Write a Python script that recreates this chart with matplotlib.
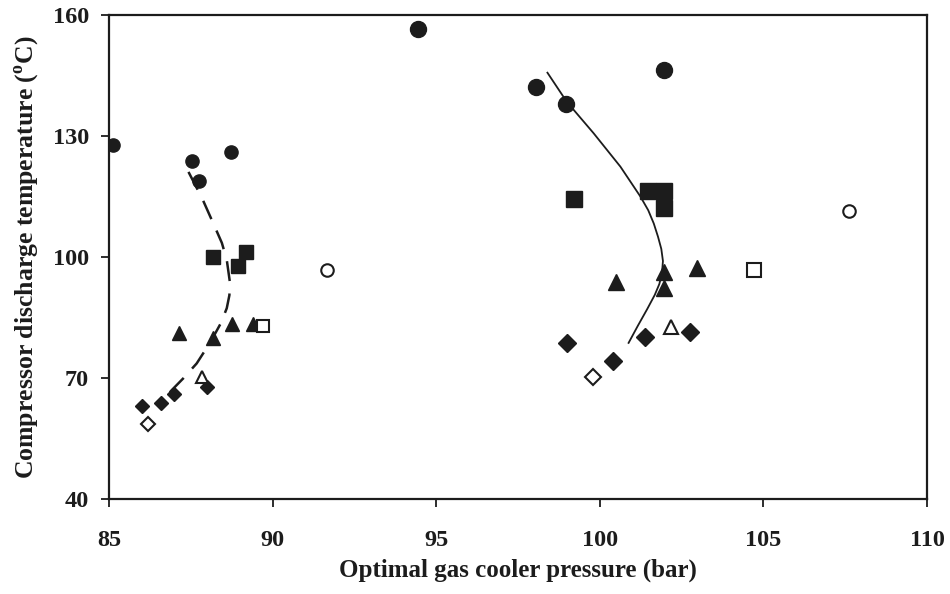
import matplotlib
matplotlib.use("Agg")
import matplotlib.pyplot as plt

plt.rcParams["font.family"] = ["Liberation Serif", "DejaVu Serif"]
plt.rcParams["font.weight"] = "bold"
plt.rcParams["mathtext.fontset"] = "custom"
plt.rcParams["mathtext.rm"] = "Liberation Serif:bold"
plt.rcParams["mathtext.bf"] = "Liberation Serif:bold"

# left group (lower pressure)
L_circ_x = [85.12, 88.73, 87.55, 87.75]
L_circ_y = [127.8, 126.1, 123.8, 118.9]
L_sq_x = [88.17, 89.19, 88.95]
L_sq_y = [100.1, 101.2, 97.8]
L_tri_x = [87.15, 88.19, 88.77, 89.39]
L_tri_y = [81.1, 79.8, 83.4, 83.4]
L_dia_x = [87.99, 86.99, 86.58, 86.0]
L_dia_y = [67.8, 66.0, 63.7, 63.1]
L_osq_x = [89.70]
L_osq_y = [83.0]
L_otri_x = [87.83]
L_otri_y = [70.2]
L_odia_x = [86.2]
L_odia_y = [58.6]

# right group (higher pressure)
R_circ_x = [94.45, 98.06, 98.96, 101.95]
R_circ_y = [156.5, 142.2, 137.9, 146.4]
R_sq_x = [99.2, 101.48, 101.97, 101.97]
R_sq_y = [114.5, 116.3, 116.3, 112.2]
R_tri_x = [100.49, 101.97, 101.97, 102.97]
R_tri_y = [93.9, 96.4, 92.2, 97.2]
R_dia_x = [99.0, 101.39, 102.77, 100.39]
R_dia_y = [78.75, 80.1, 81.5, 74.2]
R_ocirc_x = [91.67, 107.63]
R_ocirc_y = [96.8, 111.4]
R_osq_x = [104.70]
R_osq_y = [96.8]
R_otri_x = [102.19]
R_otri_y = [82.7]
R_odia_x = [99.78]
R_odia_y = [70.2]

# fitted curves
dash_x = [87.43, 87.85, 88.19, 88.45, 88.60, 88.70, 88.68, 88.60, 88.42, 88.19, 87.95, 87.68, 87.27, 86.92, 86.61]
dash_y = [121.1, 114.5, 108.3, 103.5, 99.3, 93.5, 90.5, 87.3, 83.6, 80.2, 77.0, 73.6, 69.9, 67.0, 64.1]
solid_x = [98.40, 98.99, 99.81, 100.63, 101.24, 101.48, 101.65, 101.78, 101.88, 101.93, 101.90, 101.82, 101.68, 101.45, 101.16, 100.88]
solid_y = [145.7, 138.5, 130.7, 122.4, 115.0, 111.6, 108.3, 105.0, 102.0, 99.0, 96.0, 93.3, 90.6, 87.1, 82.9, 78.7]

c = "#1c1c1c"
fig = plt.figure(figsize=(9.5, 5.94), dpi=100)
ax = fig.add_axes([0.1147, 0.160, 0.8611, 0.8147])

ax.plot(dash_x, dash_y, color=c, lw=1.8, dashes=(8, 5))
ax.plot(solid_x, solid_y, color=c, lw=1.3)

def pts(x, y, m, s, filled=True):
    if filled:
        ax.plot(x, y, m, ms=s, color=c, mec=c, ls="none")
    else:
        ax.plot(x, y, m, ms=s, mfc="white", mec=c, mew=1.5, ls="none")

pts(L_circ_x, L_circ_y, "o", 9.5)
pts(L_sq_x, L_sq_y, "s", 9.5)
pts(L_tri_x, L_tri_y, "^", 10)
pts(L_dia_x, L_dia_y, "D", 7.5)
pts(L_osq_x, L_osq_y, "s", 8, False)
pts(L_otri_x, L_otri_y, "^", 8, False)
pts(L_odia_x, L_odia_y, "D", 7, False)

pts(R_circ_x, R_circ_y, "o", 11.5)
pts(R_sq_x, R_sq_y, "s", 11.5)
pts(R_tri_x, R_tri_y, "^", 11.5)
pts(R_dia_x, R_dia_y, "D", 9)
pts(R_ocirc_x, R_ocirc_y, "o", 9, False)
pts(R_osq_x, R_osq_y, "s", 10, False)
pts(R_otri_x, R_otri_y, "^", 10, False)
pts(R_odia_x, R_odia_y, "D", 8.5, False)

ax.set_xlim(85, 110)
ax.set_ylim(40, 160)
ax.set_xticks([85, 90, 95, 100, 105, 110])
ax.set_yticks([40, 70, 100, 130, 160])
ax.tick_params(direction="out", length=6, width=1.3, labelsize=17.5, colors=c)
ax.tick_params(axis="x", pad=16)
ax.tick_params(axis="y", pad=8.5)
for s in ax.spines.values():
    s.set_linewidth(1.6)
    s.set_color(c)

ax.set_xlabel("Optimal gas cooler pressure (bar)", fontsize=18, fontweight="bold", color=c, labelpad=6)
ax.set_ylabel(r"Compressor discharge temperature ($^{\mathrm{o}}$C)", fontsize=18.5, fontweight="bold", color=c, labelpad=8)

fig.savefig("out.png", dpi=100)
